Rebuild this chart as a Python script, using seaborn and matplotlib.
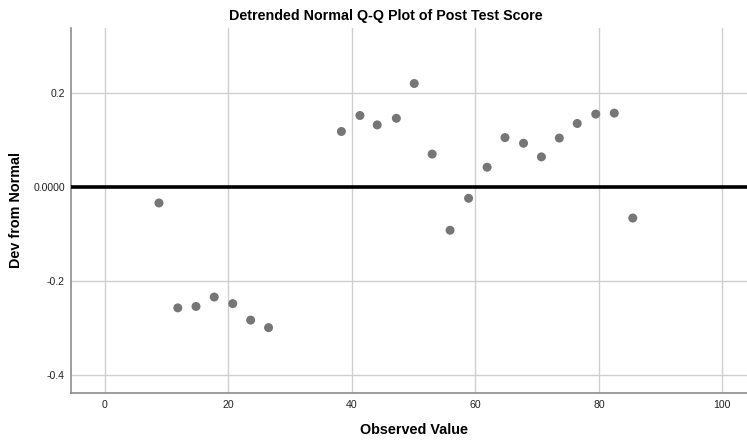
import matplotlib
matplotlib.use("Agg")
import matplotlib.pyplot as plt
import seaborn as sns
import pandas as pd

# Observed post-test scores and their deviation from the expected normal values
observed = [8.75, 11.8, 14.75, 17.7, 20.7, 23.6, 26.5,
            38.3, 41.3, 44.1, 47.2, 50.1, 53.0, 55.9, 58.9, 61.9,
            64.8, 67.8, 70.7, 73.6, 76.5, 79.5, 82.5, 85.5]
deviation = [-0.034, -0.257, -0.254, -0.234, -0.248, -0.283, -0.299,
             0.118, 0.152, 0.132, 0.146, 0.220, 0.070, -0.092, -0.024, 0.042,
             0.105, 0.093, 0.064, 0.104, 0.135, 0.155, 0.157, -0.066]
x_ticks = [0, 20, 40, 60, 80, 100]
y_ticks = [-0.4, -0.2, 0.0, 0.2]
y_tick_labels = ["-0.4", "-0.2", "0.0000", "0.2"]

df = pd.DataFrame({"Observed Value": observed, "Dev from Normal": deviation})

sns.set_style("white")
plt.rcParams["font.family"] = ["Liberation Sans", "DejaVu Sans"]

fig = plt.figure(figsize=(7.47, 4.41), dpi=100)
ax = fig.add_axes([71 / 747, 48 / 441, 676 / 747, 365 / 441])

sns.scatterplot(data=df, x="Observed Value", y="Dev from Normal", ax=ax,
                color="#767676", s=42, edgecolor="none", zorder=3)

ax.axhline(0, color="black", linewidth=2.6, zorder=4)

ax.set_xlim(-5.5, 104)
ax.set_ylim(-0.438, 0.338)
ax.set_xticks(x_ticks)
ax.set_yticks(y_ticks)
ax.set_yticklabels(y_tick_labels)
ax.grid(True, color="#cfcfcf", linewidth=1.0, zorder=0)
ax.set_axisbelow(True)

for side in ["top", "right"]:
    ax.spines[side].set_visible(False)
for side in ["left", "bottom"]:
    ax.spines[side].set_color("#8c8c8c")
    ax.spines[side].set_linewidth(1.2)

ax.tick_params(axis="both", length=0, labelsize=7.6, labelcolor="#222222")
ax.tick_params(axis="x", pad=5)
ax.tick_params(axis="y", pad=4.5)

ax.set_xlabel("")
ax.set_ylabel("")
fig.text(414 / 747, 1 - 430 / 441, "Observed Value", ha="center", va="center",
         fontsize=10.4, fontweight="bold", color="black")
fig.text(16.5 / 747, 1 - 210 / 441, "Dev from Normal", ha="center", va="center",
         fontsize=10.4, fontweight="bold", rotation=90, color="black")
fig.text(385.5 / 747, 1 - 16 / 441, "Detrended Normal Q-Q Plot of Post Test Score",
         ha="center", va="center", fontsize=10.3, fontweight="bold", color="black")

fig.savefig("out.png", dpi=100)
